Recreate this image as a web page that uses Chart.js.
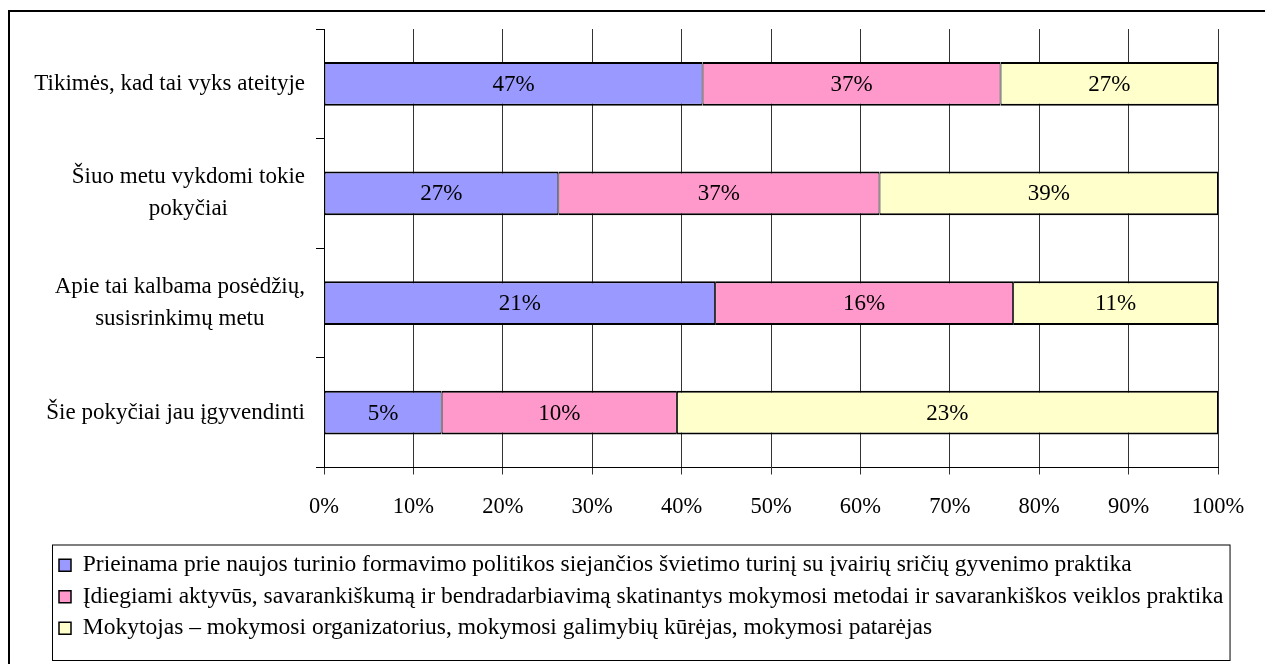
<!DOCTYPE html>
<html>
<head>
<meta charset="utf-8">
<script src="https://cdn.jsdelivr.net/npm/chart.js@4.4.1/dist/chart.umd.min.js"></script>
<style>
    html, body { margin: 0; padding: 0; background: #fff; }
    #wrap { position: relative; width: 1265px; height: 664px; }
</style>
</head>
<body>
<div id="wrap"><canvas id="surveyChart"></canvas></div>
<script>
// categories (top to bottom), each label split into its lines
const categories = [
    ['Tikimės, kad tai vyks ateityje'],
    ['Šiuo metu vykdomi tokie', 'pokyčiai'],
    ['Apie tai kalbama posėdžių,', 'susisrinkimų metu'],
    ['Šie pokyčiai jau įgyvendinti']
];

const seriesNames = [
    'Prieinama prie naujos turinio formavimo politikos siejančios švietimo turinį su įvairių sričių gyvenimo praktika',
    'Įdiegiami aktyvūs, savarankiškumą ir bendradarbiavimą skatinantys mokymosi metodai ir savarankiškos veiklos praktika',
    'Mokytojas – mokymosi organizatorius, mokymosi galimybių kūrėjas, mokymosi patarėjas'
];

// printed values (percent of respondents) for each series
const valuesA = [47, 27, 21, 5];
const valuesB = [37, 37, 16, 10];
const valuesC = [27, 39, 11, 23];

const xTicks = [0, 10, 20, 30, 40, 50, 60, 70, 80, 90, 100];

const colors = ['#9999FF', '#FF99CC', '#FFFFCC'];
const FONT = '"Liberation Serif", "Times New Roman", serif';

// 100% stacked: each bar is the share of the row total
const totals = valuesA.map((v, i) => v + valuesB[i] + valuesC[i]);
const share = arr => arr.map((v, i) => v / totals[i] * 100);

Chart.defaults.font.family = FONT;
Chart.defaults.font.size = 22.5;
Chart.defaults.color = '#000';

const frame = {
    id: 'frame',
    afterLayout(chart) {
        // let the long legend line run past the plot's right edge
        chart.legend.right = chart.width - 4;
        chart.legend.width = chart.legend.right - chart.legend.left;
    },
    beforeDraw(chart) {
        const ctx = chart.ctx;
        ctx.save();
        ctx.strokeStyle = '#000';
        ctx.lineWidth = 2;
        ctx.strokeRect(9, 11, 1300, 700);
        ctx.restore();
    },
    afterDraw(chart) {
        // box round the legend
        const lg = chart.legend;
        const pad = lg.options.labels.padding;
        const maxW = Math.max(...lg.legendHitBoxes.map(h => h.width));
        const ctx = chart.ctx;
        ctx.save();
        ctx.strokeStyle = '#000';
        ctx.lineWidth = 1;
        ctx.strokeRect(lg.left + 1.5, lg.top - 0.5, pad + maxW + 5, lg.bottom - lg.top + 11);
        ctx.restore();
    }
};

const yLabels = {
    id: 'yLabels',
    afterDraw(chart) {
        const y = chart.scales.y;
        const ctx = chart.ctx;
        ctx.save();
        ctx.font = '23px ' + FONT;
        ctx.fillStyle = '#000';
        ctx.textAlign = 'center';
        ctx.textBaseline = 'middle';
        categories.forEach((lines, i) => {
            const py = y.getPixelForValue(i);
            const widest = Math.max(...lines.map(l => ctx.measureText(l).width));
            const cx = y.right - 19 - widest / 2;
            lines.forEach((l, j) => {
                ctx.fillText(l, cx, py + (j - (lines.length - 1) / 2) * 32);
            });
        });
        ctx.restore();
    }
};

const valueLabels = {
    id: 'valueLabels',
    afterDatasetsDraw(chart) {
        const ctx = chart.ctx;
        ctx.save();
        ctx.font = '23px ' + FONT;
        ctx.fillStyle = '#000';
        ctx.textAlign = 'center';
        ctx.textBaseline = 'middle';
        chart.data.datasets.forEach((ds, di) => {
            chart.getDatasetMeta(di).data.forEach((bar, i) => {
                const p = bar.getProps(['x', 'y', 'base'], true);
                ctx.fillText(ds.printed[i] + '%', (p.x + p.base) / 2, p.y + 1);
            });
        });
        ctx.restore();
    }
};

const ctx = document.getElementById('surveyChart').getContext('2d');
const surveyChart = new Chart(ctx, {
    type: 'bar',
    data: {
        labels: categories,
        datasets: [valuesA, valuesB, valuesC].map((vals, k) => ({
            label: seriesNames[k],
            data: share(vals),
            printed: vals,
            backgroundColor: colors[k],
            borderColor: '#000',
            borderWidth: { top: 2, bottom: 2, left: 1, right: 1 },
            borderSkipped: false,
            barPercentage: 0.4,
            categoryPercentage: 1
        }))
    },
    options: {
        indexAxis: 'y',
        responsive: true,
        maintainAspectRatio: false,
        animation: false,
        layout: {
            padding: { left: 51, top: 29, right: 47, bottom: 14 }
        },
        scales: {
            x: {
                stacked: true,
                min: 0,
                max: 100,
                afterBuildTicks(scale) {
                    scale.ticks = xTicks.map(v => ({ value: v }));
                },
                afterFit(scale) {
                    scale.height = 78;
                },
                ticks: {
                    padding: 19,
                    maxRotation: 0,
                    callback: v => v + '%'
                },
                grid: {
                    color: '#333',
                    lineWidth: 1,
                    tickLength: 7
                },
                border: { color: '#000', width: 1 }
            },
            y: {
                stacked: true,
                afterFit(scale) {
                    scale.width = 273;
                },
                ticks: { display: false },
                grid: {
                    drawOnChartArea: false,
                    color: '#000',
                    tickLength: 8
                },
                border: { color: '#000', width: 1 }
            }
        },
        plugins: {
            legend: {
                position: 'bottom',
                align: 'start',
                labels: {
                    boxWidth: 12,
                    boxHeight: 12,
                    padding: 8,
                    font: { size: 23.5, family: FONT }
                }
            },
            tooltip: { enabled: false }
        }
    },
    plugins: [frame, yLabels, valueLabels]
});
</script>
</body>
</html>
